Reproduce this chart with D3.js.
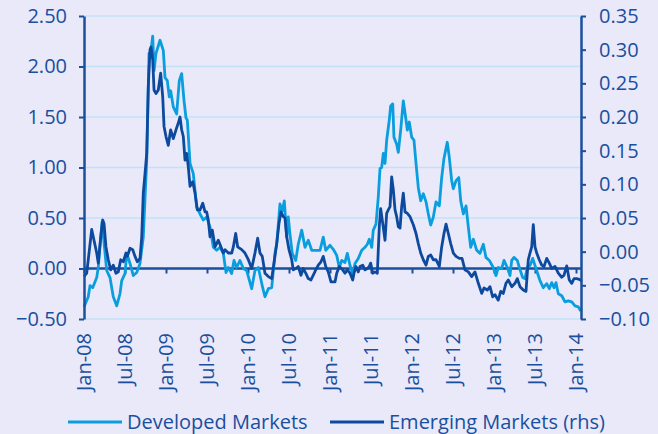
<!DOCTYPE html>
<html>
<head>
<meta charset="utf-8">
<script src="https://cdn.jsdelivr.net/npm/d3@7"></script>
<style>
  html, body { margin: 0; padding: 0; background: #e9e9fa; }
  svg { display: block; font-family: "Open Sans", sans-serif; }
</style>
</head>
<body>
<svg></svg>
<script>
const width = 658;
const height = 434;

/* -------------------------
   DATA
--------------------------*/
const xTicks = [2008, 2008.5, 2009, 2009.5, 2010, 2010.5, 2011, 2011.5, 2012, 2012.5, 2013, 2013.5, 2014];
const xTickLabels = ["Jan-08", "Jul-08", "Jan-09", "Jul-09", "Jan-10", "Jul-10", "Jan-11",
                     "Jul-11", "Jan-12", "Jul-12", "Jan-13", "Jul-13", "Jan-14"];
const leftTicks = [-0.5, 0, 0.5, 1, 1.5, 2, 2.5];
const rightTicks = [-0.1, -0.05, 0, 0.05, 0.1, 0.15, 0.2, 0.25, 0.3, 0.35];
const seriesNames = ["Developed Markets", "Emerging Markets (rhs)"];

// [decimal year, value] - left axis
const developed = [
  [2008.000, -0.38], [2008.052, -0.28], [2008.073, -0.17], [2008.106, -0.19], [2008.155, -0.09],
  [2008.174, 0.01], [2008.220, 0.46], [2008.277, -0.02], [2008.317, -0.09], [2008.357, -0.28],
  [2008.399, -0.37], [2008.439, -0.25], [2008.460, -0.12], [2008.500, -0.05], [2008.521, 0.15],
  [2008.561, 0.05], [2008.601, -0.07], [2008.643, -0.04], [2008.683, 0.05], [2008.723, 0.31],
  [2008.765, 1.07], [2008.793, 2.13], [2008.813, 2.13], [2008.838, 2.30], [2008.854, 1.96],
  [2008.878, 2.13], [2008.927, 2.26], [2008.967, 2.16], [2008.988, 1.89], [2009.016, 1.86],
  [2009.040, 1.70], [2009.057, 1.76], [2009.089, 1.60], [2009.130, 1.53], [2009.162, 1.86],
  [2009.191, 1.93], [2009.220, 1.66], [2009.244, 1.49], [2009.260, 1.47], [2009.293, 1.04],
  [2009.333, 0.94], [2009.374, 0.61], [2009.415, 0.54], [2009.455, 0.48], [2009.496, 0.51],
  [2009.537, 0.41], [2009.577, 0.21], [2009.618, 0.18], [2009.659, 0.21], [2009.699, 0.15],
  [2009.732, -0.04], [2009.760, 0.01], [2009.801, -0.05], [2009.829, 0.08], [2009.862, 0.01],
  [2009.902, 0.08], [2009.943, 0.00], [2009.984, -0.02], [2010.045, -0.20], [2010.085, -0.02],
  [2010.126, 0.01], [2010.179, -0.19], [2010.207, -0.28], [2010.248, -0.20], [2010.289, -0.19],
  [2010.329, 0.15], [2010.350, 0.24], [2010.390, 0.64], [2010.418, 0.57], [2010.443, 0.67],
  [2010.472, 0.31], [2010.491, 0.51], [2010.512, 0.34], [2010.540, 0.15], [2010.582, 0.08],
  [2010.613, 0.24], [2010.655, 0.38], [2010.695, 0.21], [2010.735, 0.28], [2010.777, 0.18],
  [2010.817, 0.18], [2010.878, 0.18], [2010.918, 0.31], [2010.948, 0.18], [2011.000, 0.23],
  [2011.040, 0.19], [2011.082, 0.13], [2011.113, 0.01], [2011.143, 0.08], [2011.183, 0.06],
  [2011.211, 0.15], [2011.244, 0.03], [2011.277, -0.05], [2011.305, 0.05], [2011.345, 0.10],
  [2011.387, 0.18], [2011.427, 0.21], [2011.455, 0.24], [2011.479, 0.29], [2011.509, 0.21],
  [2011.528, 0.38], [2011.561, 0.44], [2011.589, 0.71], [2011.610, 0.99], [2011.630, 1.00],
  [2011.650, 1.14], [2011.671, 1.04], [2011.691, 1.27], [2011.723, 1.47], [2011.740, 1.61],
  [2011.765, 1.63], [2011.780, 1.30], [2011.813, 1.23], [2011.833, 1.15], [2011.862, 1.37],
  [2011.894, 1.66], [2011.927, 1.47], [2011.943, 1.37], [2011.967, 1.45], [2011.996, 1.30],
  [2012.024, 1.27], [2012.049, 1.04], [2012.077, 0.80], [2012.106, 0.67], [2012.138, 0.74],
  [2012.171, 0.66], [2012.199, 0.54], [2012.228, 0.43], [2012.260, 0.51], [2012.293, 0.66],
  [2012.333, 0.62], [2012.362, 0.90], [2012.390, 1.09], [2012.430, 1.25], [2012.455, 1.10],
  [2012.484, 0.87], [2012.504, 0.79], [2012.537, 0.87], [2012.570, 0.90], [2012.594, 0.67],
  [2012.626, 0.54], [2012.659, 0.62], [2012.687, 0.41], [2012.716, 0.21], [2012.748, 0.29],
  [2012.789, 0.18], [2012.829, 0.15], [2012.870, 0.24], [2012.902, 0.11], [2012.943, 0.08],
  [2012.991, 0.01], [2013.024, -0.07], [2013.052, 0.01], [2013.094, 0.00], [2013.122, 0.08],
  [2013.162, 0.01], [2013.195, -0.07], [2013.216, 0.08], [2013.244, 0.11], [2013.284, 0.08],
  [2013.309, 0.01], [2013.350, -0.09], [2013.378, -0.10], [2013.406, 0.01], [2013.439, 0.03],
  [2013.472, 0.10], [2013.500, 0.03], [2013.528, -0.04], [2013.561, -0.12], [2013.601, -0.19],
  [2013.643, -0.15], [2013.674, -0.20], [2013.704, -0.14], [2013.732, -0.19], [2013.756, -0.14],
  [2013.784, -0.25], [2013.826, -0.27], [2013.866, -0.33], [2013.906, -0.32], [2013.948, -0.33],
  [2013.988, -0.37], [2014.028, -0.38], [2014.057, -0.42]
];

// [decimal year, value] - right axis
const emerging = [
  [2008.000, -0.037], [2008.033, -0.032], [2008.052, -0.012], [2008.094, 0.033], [2008.122, 0.017],
  [2008.155, -0.002], [2008.174, -0.017], [2008.204, 0.022], [2008.228, 0.047], [2008.244, 0.042],
  [2008.268, 0.007], [2008.296, -0.012], [2008.326, -0.027], [2008.357, -0.020], [2008.390, -0.032],
  [2008.418, -0.030], [2008.448, -0.012], [2008.479, -0.015], [2008.512, -0.002], [2008.528, -0.007],
  [2008.561, 0.005], [2008.594, 0.003], [2008.622, -0.007], [2008.650, -0.015], [2008.683, -0.010],
  [2008.704, 0.022], [2008.723, 0.087], [2008.744, 0.116], [2008.765, 0.146], [2008.784, 0.245],
  [2008.805, 0.300], [2008.817, 0.304], [2008.838, 0.285], [2008.854, 0.240], [2008.878, 0.235],
  [2008.906, 0.240], [2008.935, 0.265], [2008.960, 0.230], [2008.976, 0.186], [2009.000, 0.171],
  [2009.028, 0.158], [2009.057, 0.181], [2009.089, 0.168], [2009.122, 0.181], [2009.150, 0.191],
  [2009.171, 0.200], [2009.191, 0.181], [2009.211, 0.171], [2009.232, 0.136], [2009.252, 0.146],
  [2009.272, 0.126], [2009.293, 0.097], [2009.326, 0.104], [2009.354, 0.087], [2009.382, 0.062],
  [2009.415, 0.062], [2009.448, 0.072], [2009.476, 0.059], [2009.496, 0.059], [2009.516, 0.047],
  [2009.537, 0.022], [2009.565, 0.032], [2009.598, 0.007], [2009.638, 0.017], [2009.671, 0.007],
  [2009.699, -0.002], [2009.720, 0.003], [2009.760, -0.002], [2009.801, -0.002], [2009.821, 0.007],
  [2009.850, 0.027], [2009.874, 0.007], [2009.923, 0.003], [2009.963, -0.002], [2010.004, -0.012],
  [2010.045, -0.025], [2010.085, -0.002], [2010.118, 0.020], [2010.146, -0.002], [2010.174, -0.007],
  [2010.207, -0.032], [2010.248, -0.037], [2010.289, -0.040], [2010.317, -0.017], [2010.350, 0.012],
  [2010.378, 0.042], [2010.402, 0.059], [2010.430, 0.052], [2010.451, 0.050], [2010.472, 0.022],
  [2010.500, 0.003], [2010.533, -0.012], [2010.552, -0.027], [2010.582, -0.025], [2010.613, -0.022],
  [2010.646, -0.035], [2010.674, -0.025], [2010.704, -0.032], [2010.735, -0.040], [2010.768, -0.042],
  [2010.796, -0.035], [2010.826, -0.027], [2010.857, -0.020], [2010.890, -0.015], [2010.918, -0.007],
  [2010.948, -0.022], [2010.979, -0.030], [2011.012, -0.045], [2011.061, -0.045], [2011.082, -0.032],
  [2011.113, -0.022], [2011.155, -0.027], [2011.183, -0.032], [2011.211, -0.027], [2011.244, -0.032],
  [2011.277, -0.042], [2011.293, -0.032], [2011.317, -0.022], [2011.345, -0.030], [2011.366, -0.022],
  [2011.399, -0.020], [2011.427, -0.027], [2011.455, -0.025], [2011.479, -0.022], [2011.496, -0.017],
  [2011.521, -0.032], [2011.549, -0.030], [2011.577, -0.032], [2011.601, 0.037], [2011.618, 0.064],
  [2011.643, 0.042], [2011.671, 0.017], [2011.691, 0.057], [2011.711, 0.062], [2011.732, 0.067],
  [2011.752, 0.111], [2011.772, 0.092], [2011.793, 0.062], [2011.813, 0.052], [2011.833, 0.037],
  [2011.854, 0.035], [2011.874, 0.067], [2011.894, 0.087], [2011.915, 0.059], [2011.943, 0.057],
  [2011.976, 0.052], [2012.016, 0.040], [2012.049, 0.027], [2012.077, 0.012], [2012.106, -0.002],
  [2012.138, -0.012], [2012.171, -0.020], [2012.199, -0.007], [2012.228, -0.005], [2012.260, -0.012],
  [2012.293, -0.012], [2012.333, -0.022], [2012.362, 0.007], [2012.390, 0.027], [2012.415, 0.041],
  [2012.443, 0.027], [2012.472, 0.012], [2012.504, -0.002], [2012.537, -0.007], [2012.577, -0.010],
  [2012.610, -0.010], [2012.646, -0.027], [2012.687, -0.030], [2012.728, -0.037], [2012.768, -0.030],
  [2012.809, -0.047], [2012.850, -0.062], [2012.878, -0.054], [2012.918, -0.057], [2012.951, -0.052],
  [2012.984, -0.067], [2013.012, -0.064], [2013.052, -0.072], [2013.082, -0.059], [2013.113, -0.062],
  [2013.146, -0.047], [2013.174, -0.042], [2013.216, -0.052], [2013.256, -0.047], [2013.284, -0.040],
  [2013.317, -0.052], [2013.357, -0.057], [2013.390, -0.059], [2013.418, -0.012], [2013.439, -0.002],
  [2013.460, 0.007], [2013.479, 0.040], [2013.500, 0.007], [2013.521, -0.002], [2013.552, -0.012],
  [2013.582, -0.020], [2013.610, -0.022], [2013.643, -0.010], [2013.674, -0.017], [2013.704, -0.025],
  [2013.744, -0.022], [2013.784, -0.032], [2013.826, -0.038], [2013.854, -0.035], [2013.887, -0.021],
  [2013.918, -0.042], [2013.948, -0.047], [2013.976, -0.040], [2014.009, -0.040], [2014.040, -0.041],
  [2014.070, -0.044]
];

/* -------------------------
   COLORS
--------------------------*/
const COLORS = {
  bg: "#e9e9fa",
  axis: "#1a4f9d",
  text: "#1a4f9d",
  grid: "#c3e1f6",
  developed: "#0a9ede",
  emerging: "#0d4a9e"
};

/* -------------------------
   SVG + SCALES
--------------------------*/
const svg = d3.select("svg")
  .attr("width", width)
  .attr("height", height)
  .style("background", COLORS.bg);

const plot = { left: 84, right: 581, top: 16, bottom: 319 };

const x = d3.scaleLinear().domain([2008, 2014]).range([plot.left, 576]);
const yL = d3.scaleLinear().domain([-0.5, 2.5]).range([plot.bottom, plot.top]);
const yR = d3.scaleLinear().domain([-0.1, 0.35]).range([plot.bottom, plot.top]);

/* -------------------------
   GRIDLINES
--------------------------*/
svg.append("g")
  .selectAll("line")
  .data(leftTicks)
  .enter()
  .append("line")
  .attr("x1", plot.left)
  .attr("x2", plot.right)
  .attr("y1", d => yL(d))
  .attr("y2", d => yL(d))
  .attr("stroke", COLORS.grid)
  .attr("stroke-width", 1.5);

/* -------------------------
   ZERO LINE (x axis)
--------------------------*/
const xAxis = svg.append("g")
  .attr("transform", `translate(0,${yL(0)})`)
  .call(d3.axisBottom(x).tickValues(xTicks).tickSize(5).tickSizeOuter(0).tickFormat(""));
xAxis.select(".domain").remove();
xAxis.selectAll(".tick line").attr("stroke", COLORS.axis).attr("stroke-width", 2);

svg.append("line")
  .attr("x1", plot.left)
  .attr("x2", plot.right)
  .attr("y1", yL(0))
  .attr("y2", yL(0))
  .attr("stroke", COLORS.axis)
  .attr("stroke-width", 2.5);

/* -------------------------
   LINES
--------------------------*/
const lineL = d3.line().x(d => x(d[0])).y(d => yL(d[1]));
const lineR = d3.line().x(d => x(d[0])).y(d => yR(d[1]));

svg.append("path")
  .datum(developed)
  .attr("fill", "none")
  .attr("stroke", COLORS.developed)
  .attr("stroke-width", 2.8)
  .attr("stroke-linejoin", "round")
  .attr("d", lineL);

svg.append("path")
  .datum(emerging)
  .attr("fill", "none")
  .attr("stroke", COLORS.emerging)
  .attr("stroke-width", 2.8)
  .attr("stroke-linejoin", "round")
  .attr("d", lineR);

/* -------------------------
   Y AXES
--------------------------*/
function styleAxis(g) {
  g.select(".domain").attr("stroke", COLORS.axis).attr("stroke-width", 2.5);
  g.selectAll(".tick line").attr("stroke", COLORS.axis).attr("stroke-width", 2);
  g.selectAll(".tick text")
    .attr("fill", COLORS.text)
    .style("font-size", "20px")
    .style("font-family", "'Open Sans', sans-serif");
}

svg.append("g")
  .attr("transform", `translate(${plot.left},0)`)
  .call(d3.axisLeft(yL).tickValues(leftTicks).tickSize(5).tickSizeOuter(0).tickPadding(12)
    .tickFormat(d3.format(".2f")))
  .call(styleAxis);

svg.append("g")
  .attr("transform", `translate(${plot.right},0)`)
  .call(d3.axisRight(yR).tickValues(rightTicks).tickSize(5).tickSizeOuter(0).tickPadding(13)
    .tickFormat(d3.format(".2f")))
  .call(styleAxis);

/* -------------------------
   X LABELS (rotated)
--------------------------*/
svg.append("g")
  .selectAll("text")
  .data(xTicks)
  .enter()
  .append("text")
  .attr("transform", d => `translate(${x(d)},333) rotate(-90)`)
  .attr("text-anchor", "end")
  .attr("dy", "0.36em")
  .attr("fill", COLORS.text)
  .style("font-size", "20px")
  .text((d, i) => xTickLabels[i]);

/* -------------------------
   LEGEND
--------------------------*/
const legend = svg.append("g").attr("transform", "translate(0,422)");
const legendItems = [
  { name: seriesNames[0], color: COLORS.developed, x: 68 },
  { name: seriesNames[1], color: COLORS.emerging, x: 330 }
];

const li = legend.selectAll("g")
  .data(legendItems)
  .enter()
  .append("g")
  .attr("transform", d => `translate(${d.x},0)`);

li.append("line")
  .attr("x1", 0)
  .attr("x2", 54)
  .attr("stroke", d => d.color)
  .attr("stroke-width", 3);

li.append("text")
  .attr("x", 59)
  .attr("dy", "0.36em")
  .attr("fill", COLORS.text)
  .style("font-size", "20px")
  .text(d => d.name);
</script>
</body>
</html>
